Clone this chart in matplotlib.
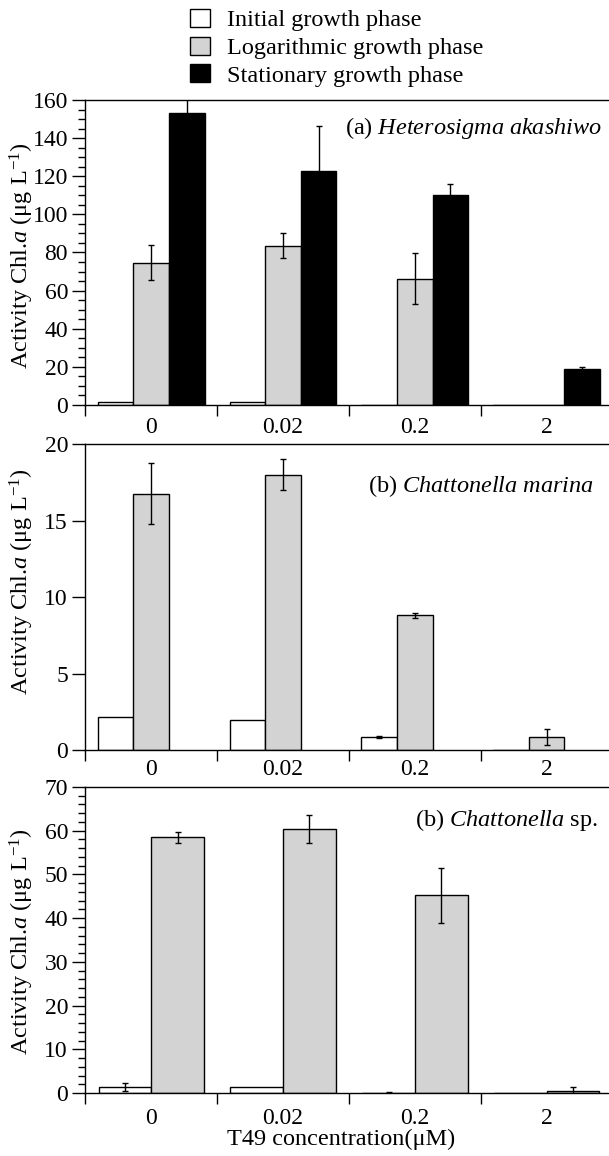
import matplotlib
matplotlib.use("Agg")
import matplotlib.pyplot as plt
import numpy as np
from matplotlib.patches import Patch
from matplotlib.ticker import MultipleLocator, FixedLocator, NullFormatter

plt.rcParams['font.family'] = ['Liberation Serif', 'DejaVu Serif']
plt.rcParams['mathtext.fontset'] = 'custom'
plt.rcParams['mathtext.rm'] = 'Liberation Serif'
plt.rcParams['mathtext.it'] = 'Liberation Serif:italic'
plt.rcParams['font.size'] = 17

# T49 concentrations (uM)
concentrations = ['0', '0.02', '0.2', '2']

# Heterosigma akashiwo
het_initial = [1.8, 1.8, 0, 0]
het_initial_err = [0, 0, 0, 0]
het_log = [74.5, 83.6, 66.2, 0]
het_log_err = [9.2, 6.6, 13.3, 0]
het_stat = [153, 123, 110, 19]
het_stat_err = [9, 23.4, 6, 1]

# Chattonella marina
mar_initial = [2.15, 1.95, 0.85, 0]
mar_initial_err = [0, 0, 0.06, 0]
mar_log = [16.75, 18.0, 8.8, 0.85]
mar_log_err = [2.0, 1.0, 0.18, 0.55]

# Chattonella sp.
sp_initial = [1.4, 1.4, 0, 0]
sp_initial_err = [0.9, 0, 0.3, 0]
sp_log = [58.5, 60.4, 45.2, 0.45]
sp_log_err = [1.3, 3.3, 6.2, 1.0]

phase_names = ['Initial growth phase', 'Logarithmic growth phase', 'Stationary growth phase']
phase_colors = ['white', '#d3d3d3', 'black']

ylabel = 'Activity Chl.$\\mathit{a}$ (μg L$^{\\mathrm{-1}}$)'
FS = 17.5

fig = plt.figure(figsize=(6.09, 11.56), dpi=100)
left, width = 0.1402, 0.8598
ax_a = fig.add_axes([left, 0.6497, width, 0.2638])
ax_b = fig.add_axes([left, 0.3512, width, 0.2647])
ax_c = fig.add_axes([left, 0.0545, width, 0.2647])

x = np.arange(len(concentrations))


def draw_bars(ax, series, errs, colors, offsets, bw):
    for vals, err, col, off in zip(series, errs, colors, offsets):
        ax.bar(x + off, vals, bw, color=col, edgecolor='black', linewidth=1, zorder=2)
        err = np.array(err)
        keep = err > 0
        ax.errorbar((x + off)[keep], np.array(vals)[keep], yerr=err[keep], fmt='none',
                    ecolor='black', elinewidth=1, capsize=2.5, capthick=1, zorder=3)


def style_axis(ax, ymax, ymajor, yminor, xpad):
    ax.set_xlim(-0.5, 3.473)
    ax.set_ylim(0, ymax)
    ax.spines['right'].set_visible(False)
    for s in ['left', 'bottom', 'top']:
        ax.spines[s].set_linewidth(1)
    ax.yaxis.set_major_locator(MultipleLocator(ymajor))
    if yminor:
        ax.yaxis.set_minor_locator(MultipleLocator(yminor))
    ax.tick_params(axis='y', which='major', direction='out', length=9.5, width=1, pad=3,
                   labelsize=17)
    ax.tick_params(axis='y', which='minor', direction='out', length=5, width=1)
    # group boundaries as ticks, concentration labels between them
    ax.xaxis.set_major_locator(FixedLocator([-0.5, 0.5, 1.5, 2.5]))
    ax.xaxis.set_major_formatter(NullFormatter())
    ax.xaxis.set_minor_locator(FixedLocator(x))
    ax.set_xticklabels(concentrations, minor=True)
    ax.tick_params(axis='x', which='major', direction='out', length=8, width=1)
    ax.tick_params(axis='x', which='minor', length=0, pad=xpad, labelsize=17)
    ax.set_ylabel(ylabel, fontsize=FS)


# (a) Heterosigma akashiwo
draw_bars(ax_a, [het_initial, het_log, het_stat], [het_initial_err, het_log_err, het_stat_err],
          phase_colors, [-0.27, 0, 0.27], 0.27)
style_axis(ax_a, 160, 20, 5, 8.5)
ax_a.yaxis.set_label_coords(-0.095, 0.49)
ax_a.text(0.496, 0.889, '(a) $\\mathit{Heterosigma\\ akashiwo}$', transform=ax_a.transAxes,
          ha='left', va='baseline', fontsize=FS)

# (b) Chattonella marina
draw_bars(ax_b, [mar_initial, mar_log], [mar_initial_err, mar_log_err],
          phase_colors[:2], [-0.27, 0], 0.27)
style_axis(ax_b, 20, 5, None, 6.5)
ax_b.yaxis.set_label_coords(-0.095, 0.549)
ax_b.text(0.540, 0.843, '(b) $\\mathit{Chattonella\\ marina}$', transform=ax_b.transAxes,
          ha='left', va='baseline', fontsize=FS)

# (b) Chattonella sp.
draw_bars(ax_c, [sp_initial, sp_log], [sp_initial_err, sp_log_err],
          phase_colors[:2], [-0.2, 0.2], 0.4)
style_axis(ax_c, 70, 10, 2, 11)
ax_c.yaxis.set_label_coords(-0.095, 0.494)
ax_c.text(0.630, 0.873, '(b) $\\mathit{Chattonella}$ sp.', transform=ax_c.transAxes,
          ha='left', va='baseline', fontsize=FS)
ax_c.set_xlabel('T49 concentration(μM)', fontsize=FS)
ax_c.xaxis.set_label_coords(0.488, -0.118)

handles = [Patch(facecolor=c, edgecolor='black', linewidth=1) for c in phase_colors]
fig.legend(handles, phase_names, loc='upper left', bbox_to_anchor=(190 / 609, 1 - 9 / 1156),
           frameon=False, fontsize=FS, handlelength=0.82, handleheight=0.76,
           handletextpad=0.72, labelspacing=0.21, borderpad=0, borderaxespad=0)

fig.savefig('out.png', dpi=100)
